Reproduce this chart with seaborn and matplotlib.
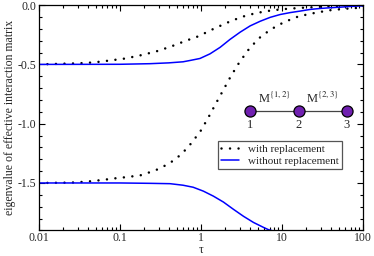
import matplotlib
matplotlib.use("Agg")
import matplotlib.pyplot as plt
import matplotlib.ticker as mticker
import seaborn as sns

# with replacement (dotted)
tau_with_hi = [0.01, 0.02, 0.031, 0.048, 0.075, 0.117, 0.18, 0.276, 0.423, 0.653,
               0.927, 1.39, 2.07, 3.15, 4.77, 7.46, 11.6, 18.2, 28.4, 43.9, 100]
ev_with_hi = [-0.5, -0.494, -0.491, -0.483, -0.467, -0.45, -0.423, -0.392, -0.35, -0.3,
              -0.263, -0.204, -0.15, -0.1, -0.067, -0.044, -0.031, -0.022, -0.015, -0.01, -0.004]

tau_with_lo = [0.01, 0.0249, 0.0388, 0.06, 0.094, 0.115, 0.178, 0.273, 0.406, 0.573,
               0.767, 1.0, 1.24, 1.53, 1.89, 2.33, 2.95, 3.8, 5.1, 7.2,
               10.6, 16.1, 24.8, 38.0, 59.5, 92, 100]
ev_with_lo = [-1.5, -1.497, -1.489, -1.475, -1.458, -1.452, -1.436, -1.394, -1.336, -1.258,
              -1.161, -1.056, -0.944, -0.828, -0.714, -0.6, -0.486, -0.381, -0.283, -0.206,
              -0.143, -0.094, -0.067, -0.044, -0.031, -0.022, -0.02]

# without replacement (solid blue)
tau_wo_hi = [0.01, 0.1, 0.234, 0.4, 0.6, 0.73, 0.97, 1.29, 1.72, 2.28, 3.04, 4.04,
             5.37, 7.14, 9.5, 12.6, 16.8, 22.4, 29.7, 39.5, 52.6, 70, 100]
ev_wo_hi = [-0.5, -0.499, -0.494, -0.487, -0.478, -0.467, -0.45, -0.411, -0.356, -0.289,
            -0.228, -0.175, -0.136, -0.103, -0.079, -0.063, -0.05, -0.036, -0.028, -0.022,
            -0.017, -0.011, -0.006]

tau_wo_lo = [0.01, 0.1, 0.234, 0.415, 0.6, 0.8, 1.07, 1.42, 1.89, 2.51, 3.34, 4.44,
             5.91, 6.8, 10]
ev_wo_lo = [-1.5, -1.5, -1.503, -1.506, -1.519, -1.536, -1.569, -1.611, -1.661, -1.722,
            -1.781, -1.833, -1.875, -1.894, -1.925]

xticks = [0.01, 0.1, 1, 10, 100]
xticklabels = ["0.01", "0.1", "1", "10", "100"]
yticks = [0.0, -0.5, -1.0, -1.5]
yticklabels = ["0.0", "-0.5", "-1.0", "-1.5"]

sns.set_style("ticks")
plt.rcParams['font.family'] = ['Liberation Serif', 'DejaVu Serif']
plt.rcParams['mathtext.fontset'] = 'stix'
plt.rcParams['axes.unicode_minus'] = False

fig = plt.figure(figsize=(3.74, 2.56), dpi=100)
ax = fig.add_axes([0.104, 0.1, 0.867, 0.88])

dot_kw = dict(color='black', linewidth=1.8, linestyle=(0, (0.01, 3.4)),
              dash_capstyle='round')
sns.lineplot(x=tau_with_hi, y=ev_with_hi, ax=ax, label='with replacement', **dot_kw)
sns.lineplot(x=tau_with_lo, y=ev_with_lo, ax=ax, **dot_kw)
sns.lineplot(x=tau_wo_hi, y=ev_wo_hi, ax=ax, color='#0000ff', linewidth=1.1,
             label='without replacement')
sns.lineplot(x=tau_wo_lo, y=ev_wo_lo, ax=ax, color='#0000ff', linewidth=1.1)

ax.set_xscale('log')
ax.set_xlim(0.01, 100)
ax.set_ylim(-1.9, 0.0)
ax.set_xticks(xticks)
ax.set_xticklabels(xticklabels)
ax.xaxis.set_minor_locator(mticker.LogLocator(base=10, subs=range(2, 10), numticks=20))
ax.xaxis.set_minor_formatter(mticker.NullFormatter())
ax.set_yticks(yticks)
ax.set_yticklabels(yticklabels)
ax.yaxis.set_minor_locator(mticker.MultipleLocator(0.1))
ax.tick_params(which='both', direction='in', top=True, right=True, labelsize=8.5,
               width=0.8, color='black', pad=2)
ax.tick_params(axis='x', which='both', pad=1.5)
ax.tick_params(which='major', length=4.5)
ax.tick_params(which='minor', length=2.2)
for s in ax.spines.values():
    s.set_linewidth(0.9)
    s.set_color('black')

ax.set_xlabel('τ', fontsize=8.5, labelpad=-0.5)
ax.set_ylabel('eigenvalue of effective interaction matrix', fontsize=8.5, labelpad=1)

leg = ax.legend(loc='upper left', bbox_to_anchor=(0.552, 0.398), borderaxespad=0,
                fontsize=8, fancybox=False, framealpha=1, edgecolor='#555555',
                handlelength=1.6, handletextpad=0.8, borderpad=0.3, labelspacing=0.2)
leg.get_frame().set_linewidth(0.9)

# chain diagram inset
node_x = [0.651, 0.802, 0.950]
node_y = 0.53
ax.plot(node_x, [node_y] * 3, transform=ax.transAxes, color='#444444', linewidth=0.9,
        marker='o', markersize=8, markerfacecolor='#7020b0', markeredgecolor='black',
        markeredgewidth=0.9, clip_on=False, zorder=5)
for xn, lab in zip(node_x, ['1', '2', '3']):
    ax.text(xn, node_y - 0.035, lab, transform=ax.transAxes, ha='center', va='top',
            fontsize=9)
ax.text((node_x[0] + node_x[1]) / 2, node_y + 0.02, 'M$^{\\{1,2\\}}$',
        transform=ax.transAxes, ha='center', va='bottom', fontsize=9)
ax.text((node_x[1] + node_x[2]) / 2, node_y + 0.02, 'M$^{\\{2,3\\}}$',
        transform=ax.transAxes, ha='center', va='bottom', fontsize=9)

fig.savefig('out.png', dpi=100)
